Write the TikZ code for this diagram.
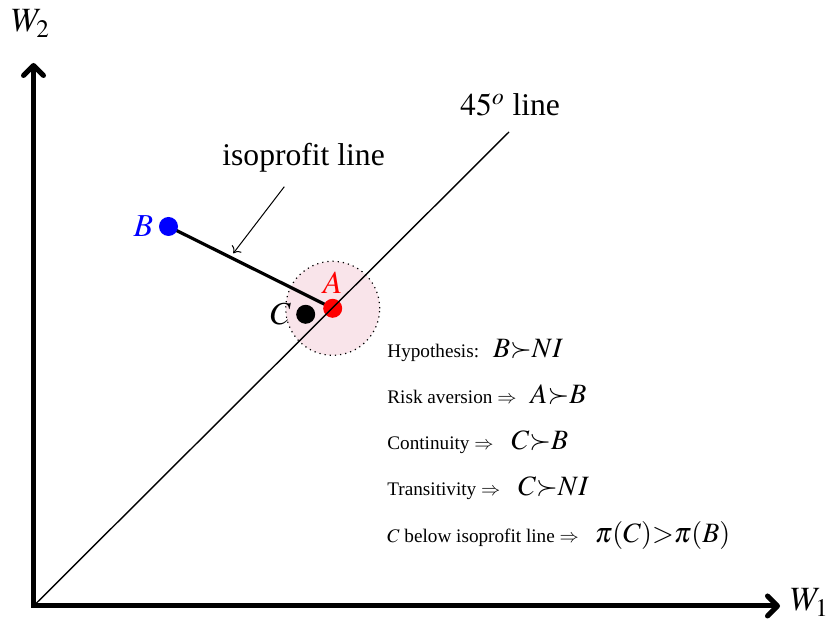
\documentclass[tikz,border=0pt]{standalone}
\usepackage{mathptmx}
\usepackage{fontspec}
\setmainfont{Liberation Serif}
\usetikzlibrary{arrows.meta,positioning}

\definecolor{zonepink}{RGB}{249,228,234}
\newcommand{\claimmath}[1]{{\fontsize{14}{17}\selectfont$#1$}}

\begin{document}
\begin{tikzpicture}[
  x=0.5pt, y=-0.5pt,
  axis/.style={line width=2.5pt, line join=miter, {Straight Barb[length=5pt,width=10pt,round]}-{Straight Barb[length=5pt,width=10pt,round]}},
  diag/.style={line width=0.7pt},
  iso/.style={line width=1.6pt},
  pointer/.style={line width=0.5pt, -{To[length=3pt,width=6pt]}},
  zone/.style={circle, draw, dotted, line width=0.6pt, fill=zonepink, minimum size=47pt, inner sep=0pt},
  dot/.style={circle, minimum size=9.5pt, inner sep=0pt},
  axlbl/.style={font=\fontsize{17}{20}\selectfont, inner sep=0pt},
  biglbl/.style={font=\fontsize{15.8}{19}\selectfont, inner sep=0pt},
  ptlbl/.style={font=\fontsize{16}{19}\selectfont, inner sep=0pt},
  note/.style={font=\fontsize{9.6}{12}\selectfont, anchor=base west, inner sep=0pt}
]
\useasboundingbox (0,0) rectangle (837,619);

% Axes
\coordinate (O) at (33.5,606);
\coordinate (ytop) at (33.5,63);
\coordinate (xend) at (780,606);
\draw[axis] (ytop) -- (O) -- (xend);
\node[axlbl, anchor=base west] (w2) at (11,32) {$W_2$};
\node[axlbl, anchor=base west] (w1) at (790,611) {$W_1$};

% Neighbourhood of A
\coordinate (Apt) at (332.7,308.3);
\coordinate (Bpt) at (168.5,226.5);
\coordinate (Cpt) at (305.7,314.3);
\node[zone] (zone) at (Apt) {};

% Isoprofit line
\draw[iso] (Bpt) -- (Apt);

% Points
\node[dot, fill=red] (Adot) at (Apt) {};
\node[dot, fill=blue] (Bdot) at (Bpt) {};
\node[dot, fill=black] (Cdot) at (Cpt) {};
\node[ptlbl, text=red, above=2.4pt of Adot] (Alab) {$A$};
\node[ptlbl, text=blue, left=2.5pt of Bdot] (Blab) {$B$};
\node[ptlbl, left=2.3pt of Cdot] (Clab) {$C$};

% 45 degree line
\coordinate (top45) at (509,132);
\draw[diag] (O) -- (top45);
\node[biglbl, anchor=base west] (lbl45) at (460,116) {$45^o$ line};

% Pointer to the isoprofit line
\node[biglbl, anchor=base west] (isolbl) at (222,166) {isoprofit line};
\coordinate (isostart) at (284.3,186.7);
\coordinate (isotip) at (233.3,253.3);
\draw[pointer] (isostart) -- (isotip);

% Argument
\node[note] (hyp) at (387,358) {Hypothesis:\hspace{7pt}\claimmath{B{\succ}NI}};
\node[note] (risk) at (387,404) {Risk aversion $\Rightarrow$\hspace{7pt}\claimmath{A{\succ}B}};
\node[note] (cont) at (387,450) {Continuity $\Rightarrow$\hspace{9pt}\claimmath{C{\succ}B}};
\node[note] (trans) at (387,496) {Transitivity $\Rightarrow$\hspace{9pt}\claimmath{C{\succ}NI}};
\node[note] (below) at (387,543) {$C$ below isoprofit line $\Rightarrow$\hspace{8pt}\claimmath{\pi(C){>}\pi(B)}};

\end{tikzpicture}
\end{document}
